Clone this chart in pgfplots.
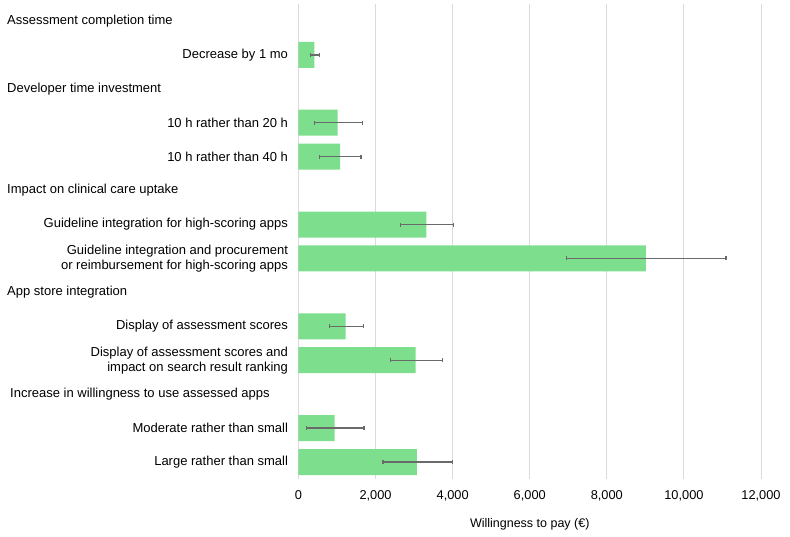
\documentclass[border=0pt]{standalone}
\usepackage{pgfplots}
\pgfplotsset{compat=1.18}
\usepackage{fontspec}
\setmainfont{Liberation Sans}
\definecolor{barg}{HTML}{7DDF8E}
\definecolor{errc}{HTML}{6A6A6A}
\definecolor{gridc}{HTML}{DADADA}
\begin{document}
\fontsize{13}{15}\selectfont
\begin{tikzpicture}
\path[use as bounding box] (0,0) rectangle (790pt,537pt);
\begin{axis}[
  at={(298.5pt,58pt)}, anchor=south west,
  scale only axis, width=462.5pt, height=475pt,
  xmin=0, xmax=12000, ymin=-0.5, ymax=13.5, y dir=reverse,
  axis line style={draw=none}, major tick length=0,
  xtick={0,2000,...,12000}, xmajorgrids,
  grid style={color=gridc, line width=1pt},
  scaled x ticks=false,
  xticklabel style={/pgf/number format/1000 sep={,}, yshift=-7pt},
  /pgf/number format/assume math mode=true,
  tick label style={font=\fontsize{12.8}{15}\selectfont},
  label style={font=\fontsize{12.5}{15}\selectfont},
  xlabel style={yshift=-8pt},
  ytick={1,3,4,6,7,9,10,12,13},
  yticklabels={Decrease by 1 mo,
    10 h rather than 20 h,
    10 h rather than 40 h,
    Guideline integration for high-scoring apps,
    {Guideline integration and procurement\\or reimbursement for high-scoring apps},
    Display of assessment scores,
    {Display of assessment scores and\\impact on search result ranking},
    Moderate rather than small,
    Large rather than small},
  yticklabel style={align=right, xshift=-6pt, font=\fontsize{13}{15}\selectfont},
  xlabel={Willingness to pay (€)},
  clip=false,
]
\addplot[xbar, bar shift=0pt, bar width=26pt, fill=barg, draw=none]
coordinates {
  (415,1) (1017,3) (1077,4) (3316,6) (9014,7)
  (1224,9) (3040,10) (939,12) (3074,13)
};
\addplot[only marks, mark=*, mark size=0pt, color=errc, line width=1.4pt,
  error bars/.cd, x dir=both, x explicit,
  error bar style={color=errc, line width=1.4pt},
  error mark=|,
  error mark options={color=errc, mark size=2pt, line width=1.4pt}]
coordinates {
  (415,1) += (135,0) -= (99,0)
  (1017,3) += (648,0) -= (607,0)
  (1077,4) += (543,0) -= (537,0)
  (3316,6) += (700,0) -= (666,0)
  (9014,7) += (2076,0) -= (2067,0)
  (1224,9) += (457,0) -= (424,0)
  (3040,10) += (690,0) -= (658,0)
  (939,12) += (761,0) -= (736,0)
  (3074,13) += (916,0) -= (882,0)
};
\node[anchor=west, inner sep=0pt] at ([xshift=-291.5pt]axis cs:0,0) {Assessment completion time};
\node[anchor=west, inner sep=0pt] at ([xshift=-291.5pt]axis cs:0,2) {Developer time investment};
\node[anchor=west, inner sep=0pt] at ([xshift=-291.5pt]axis cs:0,5) {Impact on clinical care uptake};
\node[anchor=west, inner sep=0pt] at ([xshift=-291.5pt]axis cs:0,8) {App store integration};
\node[anchor=west, inner sep=0pt] at ([xshift=-288.5pt]axis cs:0,11) {Increase in willingness to use assessed apps};
\end{axis}
\end{tikzpicture}
\end{document}
